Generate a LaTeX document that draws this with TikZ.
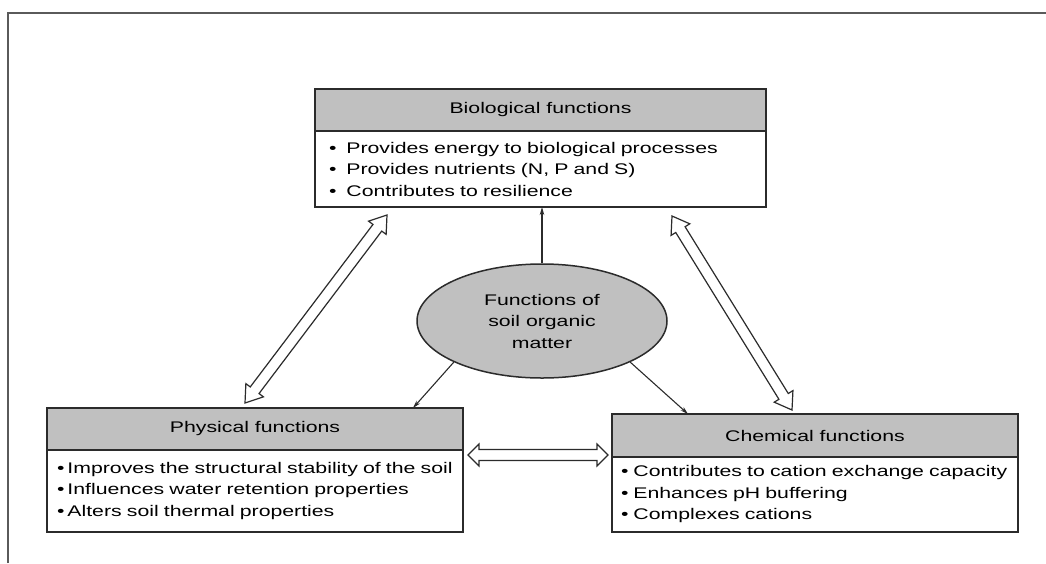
\documentclass[tikz,border=0pt]{standalone}
\usepackage{fontspec}
\setmainfont{Liberation Sans}[FakeStretch=1.38]
\usetikzlibrary{positioning,calc,shapes.geometric,arrows.meta}

\definecolor{linec}{HTML}{2B2B2B}
\definecolor{boxgray}{HTML}{C0C0C0}
\definecolor{framec}{HTML}{5A5A5A}

\newcommand{\bul}[2]{\mbox{\textbullet\hspace{#1}#2}}
\newcommand{\hdwid}{11pt}
\newcommand{\shwid}{5.5pt}
\newcommand{\hollowarr}[3]{%
  \draw[hollow] (#1)
    -- ($($(#1)!#3!(#2)$)!\hdwid!90:(#2)$)
    -- ($($(#1)!#3!(#2)$)!\shwid!90:(#2)$)
    -- ($($(#2)!#3!(#1)$)!\shwid!-90:(#1)$)
    -- ($($(#2)!#3!(#1)$)!\hdwid!-90:(#1)$)
    -- (#2)
    -- ($($(#2)!#3!(#1)$)!\hdwid!90:(#1)$)
    -- ($($(#2)!#3!(#1)$)!\shwid!90:(#1)$)
    -- ($($(#1)!#3!(#2)$)!\shwid!-90:(#2)$)
    -- ($($(#1)!#3!(#2)$)!\hdwid!-90:(#2)$)
    -- cycle;}

\begin{document}
\begin{tikzpicture}[x=1pt,y=-1pt,font=\fontsize{15.4}{21.5}\selectfont,
  head/.style={draw=linec,fill=boxgray,line width=1.5pt,outer sep=0pt,inner sep=0pt,minimum height=42pt,anchor=north west},
  body/.style={draw=linec,fill=white,line width=1.5pt,outer sep=0pt,inner ysep=0pt,align=left},
  core/.style={ellipse,draw=linec,fill=boxgray,line width=1.5pt,inner sep=0pt,minimum width=250pt,minimum height=114pt,align=center},
  pointer/.style={draw=linec,line width=1.1pt,-{Stealth[length=8pt,width=4.5pt]}},
  hollow/.style={draw=linec,fill=white,line width=1.2pt,line join=miter}]
\useasboundingbox (0,0) rectangle (1046,563);
\draw[framec,line width=2pt] (8,563) -- (8,13) -- (1046,13);

\node[head,minimum width=451pt] (bioHead) at (315,89) {Biological functions};
\node[body,below=0pt of bioHead,text width=423pt,inner xsep=14pt,minimum height=76pt] (bioBody)
  {\bul{10pt}{Provides energy to biological processes}\\
   \bul{10pt}{Provides nutrients (N, P and S)}\\
   \bul{10pt}{Contributes to resilience}};

\node[head,minimum width=416pt] (phyHead) at (47,408) {Physical functions};
\node[body,below=0pt of phyHead,text width=396pt,inner xsep=10pt,minimum height=82pt] (phyBody)
  {\bul{3pt}{Improves the structural stability of the soil}\\
   \bul{3pt}{Influences water retention properties}\\
   \bul{3pt}{Alters soil thermal properties}};

\node[head,minimum width=406pt,minimum height=43pt] (chemHead) at (612,414) {Chemical functions};
\node[body,below=0pt of chemHead,text width=388pt,inner xsep=9pt,minimum height=75pt] (chemBody)
  {\bul{5pt}{Contributes to cation exchange capacity}\\
   \bul{5pt}{Enhances pH buffering}\\
   \bul{5pt}{Complexes cations}};

\node[core] (som) at (542,321) {Functions of\\soil organic\\matter};

\coordinate (phyIn) at (413,408);
\coordinate (chemIn) at (688,414);
\draw[pointer] (som.north) -- (som.north |- bioBody.south);
\draw[pointer] (som.205) -- (phyIn);
\draw[pointer] (som.335) -- (chemIn);

\coordinate (bp1) at (387,215);
\coordinate (bp2) at (245,403);
\coordinate (bc1) at (672,216);
\coordinate (bc2) at (792,410);
\coordinate (pc1) at (468,455);
\coordinate (pc2) at (608,455);
\hollowarr{bp1}{bp2}{16pt}
\hollowarr{bc1}{bc2}{16pt}
\hollowarr{pc1}{pc2}{11pt}
\end{tikzpicture}
\end{document}
